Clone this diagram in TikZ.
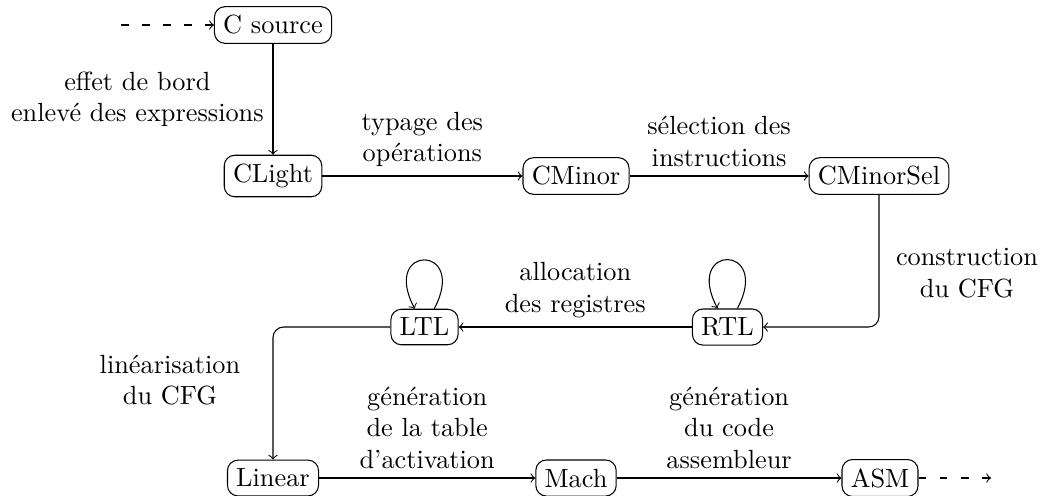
\documentclass[tikz,border=0pt]{standalone}
\usetikzlibrary{arrows}
\begin{document}
\begin{tikzpicture}[x=0.3802pt,y=-0.3802pt,
  stage/.style={draw, rounded corners, inner sep=3.333pt},
  lbl/.style={align=center},
  flow/.style={->},
  ext/.style={->, dash pattern=on 3pt off 5pt},
  selfloop/.style={->, looseness=1, min distance=28pt}]
\useasboundingbox (0,0) rectangle (1040,495);
\node[stage] (csrc) at (273,25) {C source};
\node[stage] (clight) at (273,176) {CLight};
\node[stage] (cminor) at (576,176) {CMinor};
\node[stage] (cminorsel) at (879,176) {CMinorSel};
\node[stage] (rtl) at (727.5,327) {RTL};
\node[stage] (ltl) at (424.5,327) {LTL};
\node[stage] (linear) at (273,478) {Linear};
\node[stage] (mach) at (576,478) {Mach};
\node[stage] (asm) at (880,478) {ASM};
\coordinate (in) at (121,25);
\coordinate (out) at (991,478);
\coordinate (c1) at (879,327);
\coordinate (c2) at (273,327);

\node[lbl] (l4) at (967,273) {construction\\du CFG};
\node[lbl] (l6) at (170,380) {linéarisation\\du CFG};

\draw[ext] (in) -- (csrc);
\draw[flow] (csrc) -- node[left, lbl] (l1) {effet de bord\\enlevé des expressions} (clight);
\draw[flow] (clight) -- node[above, lbl] (l2) {typage des\\opérations} (cminor);
\draw[flow] (cminor) -- node[above, lbl] (l3) {sélection des\\instructions} (cminorsel);
\draw[flow, rounded corners] (cminorsel.south) -- (c1) -- (rtl.east);
\draw[selfloop] (rtl) to[out=62,in=118] (rtl);
\draw[flow] (rtl) -- node[above, lbl] (l5) {allocation\\des registres} (ltl);
\draw[selfloop] (ltl) to[out=62,in=118] (ltl);
\draw[flow, rounded corners] (ltl.west) -- (c2) -- (linear.north);
\draw[flow] (linear) -- node[above, lbl] (l7) {génération\\de la table\\d'activation} (mach);
\draw[flow] (mach) -- node[above, lbl] (l8) {génération\\du code\\assembleur} (asm);
\draw[ext] (asm) -- (out);
\end{tikzpicture}
\end{document}
